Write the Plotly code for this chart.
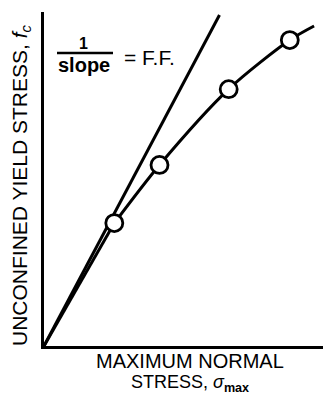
import plotly.graph_objects as go

# Measured points of unconfined yield stress vs. maximum normal stress
sigma_max = [2.52, 4.14, 6.62, 8.81]
f_c = [3.68, 5.42, 7.69, 9.16]

# Flow function: straight from the origin to the first point, then a smooth curve
start_x = [0.0, sigma_max[0]]
start_y = [0.0, f_c[0]]
curve_x = sigma_max + [9.68]
curve_y = f_c + [9.58]

# Straight reference line from the origin (1/slope = F.F.)
line_x = [0.0, 6.29]
line_y = [0.0, 9.91]

FONT = "Liberation Sans, Arial, sans-serif"

fig = go.Figure()
fig.add_trace(go.Scatter(x=line_x, y=line_y, mode="lines",
                         line=dict(color="black", width=3), hoverinfo="skip"))
fig.add_trace(go.Scatter(x=start_x, y=start_y, mode="lines",
                         line=dict(color="black", width=3), hoverinfo="skip"))
fig.add_trace(go.Scatter(x=curve_x, y=curve_y, mode="lines",
                         line=dict(color="black", width=3, shape="spline", smoothing=0.8),
                         hoverinfo="skip"))
fig.add_trace(go.Scatter(x=sigma_max, y=f_c, mode="markers",
                         marker=dict(size=17, color="white", symbol="circle",
                                     line=dict(color="black", width=2.8))))

def px(x):
    return (x - 44) / 279

def py(y):
    return (346 - y) / 334

annotations = [
    dict(text="UNCONFINED YIELD STRESS, <i>f<sub>c</sub></i>", x=px(21), y=py(185),
         textangle=-90, font=dict(size=21, color="black", family=FONT)),
    dict(text="MAXIMUM NORMAL", x=px(190), y=py(361), borderpad=0,
         font=dict(size=20, color="black", family=FONT)),
    dict(text="STRESS, <i>σ</i><sub><b>max</b></sub>", x=px(190), y=py(396),
         yanchor="bottom", borderpad=0,
         font=dict(size=18, color="black", family=FONT)),
    dict(text="<b>1</b>", x=px(83), y=py(43), font=dict(size=16, color="black", family=FONT)),
    dict(text="<b>slope</b>", x=px(84), y=py(65), font=dict(size=20, color="black", family=FONT)),
    dict(text="= F.F.", x=px(149), y=py(58), font=dict(size=21, color="black", family=FONT)),
]
for a in annotations:
    a.update(xref="paper", yref="paper", showarrow=False)
    a.setdefault("xanchor", "center")
    a.setdefault("yanchor", "middle")

fig.update_layout(
    width=323, height=397,
    margin=dict(l=44, r=0, t=12, b=51),
    paper_bgcolor="white", plot_bgcolor="white",
    showlegend=False,
    annotations=annotations,
    shapes=[dict(type="line", xref="paper", yref="paper",
                 x0=px(57), x1=px(113), y0=py(53), y1=py(53),
                 line=dict(color="black", width=2.5))],
)
fig.update_xaxes(range=[0, 10], showgrid=False, zeroline=False, showticklabels=False,
                 ticks="", showline=True, linecolor="black", linewidth=3)
fig.update_yaxes(range=[0, 10], showgrid=False, zeroline=False, showticklabels=False,
                 ticks="", showline=True, linecolor="black", linewidth=3)

fig.write_html("out.html")
